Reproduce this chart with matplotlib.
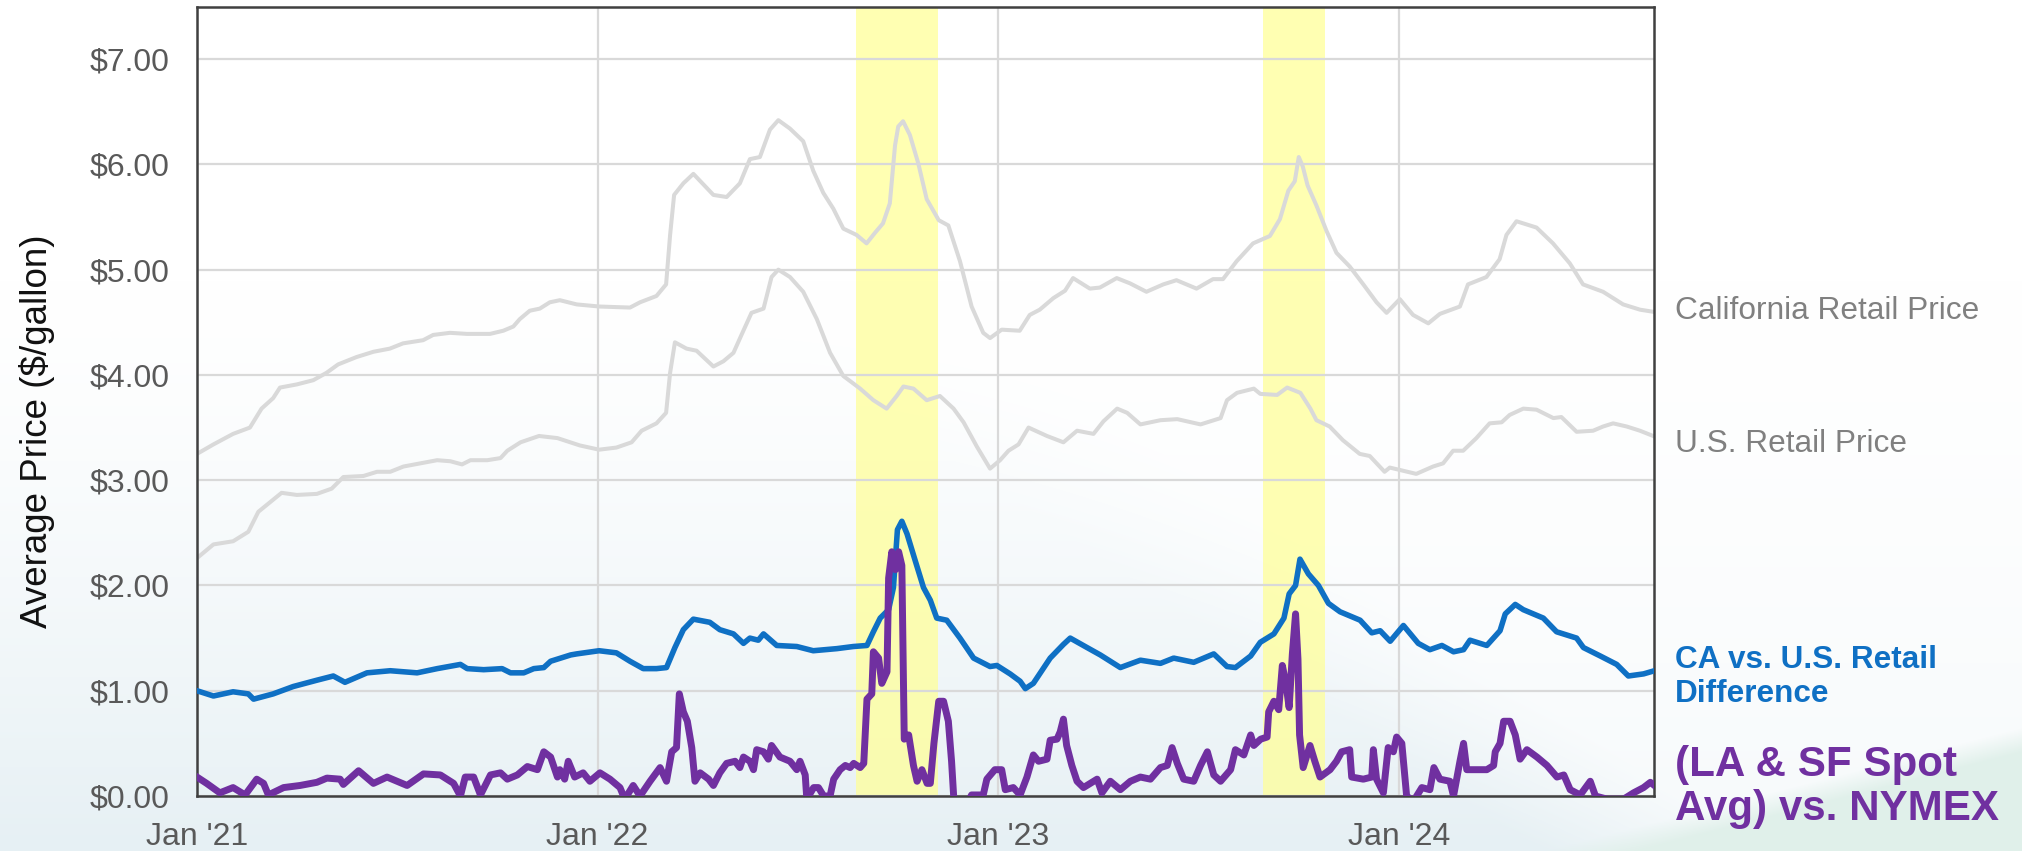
import numpy as np
import pandas as pd
import matplotlib
matplotlib.use("Agg")
import matplotlib.pyplot as plt
from matplotlib.ticker import FuncFormatter

plt.rcParams['font.family'] = ['Liberation Sans', 'DejaVu Sans']

# --- data (decimal years, $/gallon) ---
ca_t = [2021.000, 2021.041, 2021.090, 2021.132, 2021.161, 2021.190, 2021.207, 2021.249, 2021.290, 2021.323,
        2021.352, 2021.398, 2021.440, 2021.481, 2021.514, 2021.564, 2021.589, 2021.631, 2021.673, 2021.731,
        2021.764, 2021.789, 2021.805, 2021.830, 2021.855, 2021.880, 2021.905, 2021.947, 2022.003, 2022.080,
        2022.105, 2022.146, 2022.170, 2022.180, 2022.190, 2022.213, 2022.238, 2022.263, 2022.288, 2022.321,
        2022.354, 2022.379, 2022.404, 2022.429, 2022.450, 2022.479, 2022.512, 2022.537, 2022.562, 2022.587,
        2022.612, 2022.645, 2022.670, 2022.691, 2022.711, 2022.728, 2022.741, 2022.749, 2022.761, 2022.778,
        2022.799, 2022.820, 2022.850, 2022.874, 2022.903, 2022.932, 2022.961, 2022.978, 2023.007, 2023.052,
        2023.077, 2023.102, 2023.136, 2023.165, 2023.185, 2023.227, 2023.252, 2023.294, 2023.327, 2023.368,
        2023.410, 2023.443, 2023.493, 2023.534, 2023.559, 2023.593, 2023.634, 2023.676, 2023.701, 2023.722,
        2023.738, 2023.748, 2023.758, 2023.770, 2023.792, 2023.817, 2023.842, 2023.875, 2023.909, 2023.942,
        2023.967, 2024.000, 2024.033, 2024.071, 2024.100, 2024.150, 2024.170, 2024.216, 2024.249, 2024.266,
        2024.291, 2024.341, 2024.382, 2024.424, 2024.457, 2024.507, 2024.557, 2024.599, 2024.632]
ca_price = [3.25, 3.34, 3.44, 3.50, 3.68, 3.78, 3.88, 3.91, 3.95, 4.02,
            4.10, 4.17, 4.22, 4.25, 4.30, 4.33, 4.38, 4.40, 4.39, 4.39,
            4.42, 4.46, 4.53, 4.61, 4.63, 4.69, 4.71, 4.67, 4.65, 4.64,
            4.69, 4.75, 4.86, 5.33, 5.71, 5.82, 5.91, 5.81, 5.71, 5.69,
            5.82, 6.05, 6.07, 6.33, 6.42, 6.34, 6.22, 5.94, 5.73, 5.58,
            5.39, 5.33, 5.25, 5.35, 5.44, 5.63, 6.18, 6.36, 6.41, 6.28,
            6.01, 5.67, 5.47, 5.42, 5.08, 4.65, 4.40, 4.35, 4.43, 4.42,
            4.57, 4.62, 4.73, 4.80, 4.92, 4.82, 4.83, 4.92, 4.87, 4.79,
            4.86, 4.90, 4.82, 4.91, 4.91, 5.08, 5.25, 5.32, 5.48, 5.75,
            5.84, 6.07, 5.98, 5.80, 5.61, 5.37, 5.16, 5.03, 4.86, 4.69,
            4.59, 4.72, 4.57, 4.49, 4.58, 4.65, 4.86, 4.93, 5.10, 5.33,
            5.46, 5.40, 5.25, 5.06, 4.86, 4.79, 4.67, 4.62, 4.60]

us_t = [2021.000, 2021.041, 2021.090, 2021.128, 2021.153, 2021.182, 2021.211, 2021.249, 2021.299, 2021.336,
        2021.365, 2021.415, 2021.449, 2021.482, 2021.515, 2021.557, 2021.599, 2021.632, 2021.661, 2021.682,
        2021.724, 2021.757, 2021.774, 2021.807, 2021.853, 2021.899, 2021.955, 2022.003, 2022.046, 2022.084,
        2022.109, 2022.146, 2022.170, 2022.180, 2022.192, 2022.221, 2022.246, 2022.288, 2022.313, 2022.338,
        2022.358, 2022.383, 2022.413, 2022.433, 2022.450, 2022.479, 2022.512, 2022.546, 2022.579, 2022.612,
        2022.654, 2022.687, 2022.720, 2022.745, 2022.762, 2022.787, 2022.820, 2022.853, 2022.887, 2022.912,
        2022.945, 2022.978, 2023.003, 2023.024, 2023.049, 2023.074, 2023.120, 2023.161, 2023.195, 2023.236,
        2023.261, 2023.295, 2023.320, 2023.353, 2023.403, 2023.445, 2023.503, 2023.553, 2023.569, 2023.594,
        2023.636, 2023.652, 2023.694, 2023.719, 2023.752, 2023.777, 2023.792, 2023.825, 2023.858, 2023.900,
        2023.925, 2023.962, 2023.975, 2024.008, 2024.041, 2024.083, 2024.108, 2024.133, 2024.158, 2024.191,
        2024.224, 2024.254, 2024.274, 2024.308, 2024.341, 2024.383, 2024.403, 2024.441, 2024.482, 2024.507,
        2024.532, 2024.566, 2024.599, 2024.632]
us_price = [2.26, 2.39, 2.42, 2.51, 2.70, 2.79, 2.88, 2.86, 2.87, 2.92,
            3.03, 3.04, 3.08, 3.08, 3.13, 3.16, 3.19, 3.18, 3.15, 3.19,
            3.19, 3.21, 3.28, 3.36, 3.42, 3.40, 3.33, 3.29, 3.31, 3.36,
            3.47, 3.54, 3.64, 4.02, 4.31, 4.25, 4.23, 4.08, 4.13, 4.21,
            4.38, 4.59, 4.63, 4.93, 5.00, 4.93, 4.79, 4.53, 4.21, 3.99,
            3.87, 3.76, 3.68, 3.80, 3.89, 3.87, 3.76, 3.80, 3.68, 3.55,
            3.32, 3.11, 3.19, 3.28, 3.34, 3.50, 3.42, 3.36, 3.47, 3.44,
            3.56, 3.68, 3.64, 3.53, 3.57, 3.58, 3.53, 3.59, 3.76, 3.83,
            3.87, 3.82, 3.81, 3.88, 3.83, 3.68, 3.57, 3.51, 3.38, 3.25,
            3.23, 3.08, 3.12, 3.09, 3.06, 3.13, 3.16, 3.28, 3.28, 3.40,
            3.54, 3.55, 3.62, 3.68, 3.67, 3.59, 3.60, 3.46, 3.47, 3.51,
            3.54, 3.51, 3.47, 3.42]

diff_t = [2021.000, 2021.041, 2021.090, 2021.128, 2021.141, 2021.190, 2021.240, 2021.299, 2021.340, 2021.369,
          2021.424, 2021.482, 2021.549, 2021.599, 2021.657, 2021.674, 2021.715, 2021.761, 2021.782, 2021.815,
          2021.840, 2021.865, 2021.882, 2021.932, 2021.947, 2022.003, 2022.046, 2022.080, 2022.113, 2022.146,
          2022.171, 2022.192, 2022.213, 2022.238, 2022.279, 2022.304, 2022.338, 2022.363, 2022.379, 2022.400,
          2022.413, 2022.446, 2022.496, 2022.537, 2022.596, 2022.637, 2022.671, 2022.687, 2022.704, 2022.725,
          2022.737, 2022.747, 2022.758, 2022.771, 2022.791, 2022.812, 2022.829, 2022.845, 2022.870, 2022.903,
          2022.937, 2022.978, 2022.995, 2023.028, 2023.053, 2023.066, 2023.086, 2023.128, 2023.161, 2023.178,
          2023.220, 2023.253, 2023.303, 2023.353, 2023.403, 2023.436, 2023.486, 2023.536, 2023.569, 2023.590,
          2023.628, 2023.652, 2023.686, 2023.711, 2023.724, 2023.740, 2023.751, 2023.772, 2023.797, 2023.822,
          2023.851, 2023.901, 2023.930, 2023.951, 2023.976, 2024.009, 2024.046, 2024.075, 2024.105, 2024.134,
          2024.159, 2024.175, 2024.217, 2024.250, 2024.263, 2024.288, 2024.308, 2024.358, 2024.391, 2024.441,
          2024.458, 2024.500, 2024.541, 2024.570, 2024.608, 2024.635]
diff_price = [1.00, 0.95, 0.99, 0.97, 0.92, 0.97, 1.04, 1.10, 1.14, 1.08,
              1.17, 1.19, 1.17, 1.21, 1.25, 1.21, 1.20, 1.21, 1.17, 1.17,
              1.21, 1.22, 1.28, 1.34, 1.35, 1.38, 1.36, 1.28, 1.21, 1.21,
              1.22, 1.41, 1.58, 1.68, 1.65, 1.58, 1.54, 1.45, 1.50, 1.48,
              1.54, 1.43, 1.42, 1.38, 1.40, 1.42, 1.43, 1.56, 1.69, 1.77,
              1.98, 2.53, 2.61, 2.49, 2.24, 1.98, 1.86, 1.69, 1.67, 1.50,
              1.31, 1.23, 1.24, 1.16, 1.09, 1.02, 1.07, 1.31, 1.44, 1.50,
              1.41, 1.34, 1.22, 1.29, 1.26, 1.31, 1.27, 1.35, 1.23, 1.22,
              1.33, 1.46, 1.54, 1.69, 1.92, 2.00, 2.25, 2.11, 2.00, 1.83,
              1.75, 1.67, 1.55, 1.57, 1.47, 1.62, 1.45, 1.39, 1.43, 1.37,
              1.39, 1.48, 1.43, 1.57, 1.73, 1.82, 1.77, 1.69, 1.56, 1.50,
              1.41, 1.33, 1.25, 1.14, 1.16, 1.19]

spot_t = [2021.000, 2021.024, 2021.057, 2021.090, 2021.120, 2021.149, 2021.166, 2021.178, 2021.216, 2021.257,
          2021.299, 2021.324, 2021.357, 2021.365, 2021.403, 2021.440, 2021.474, 2021.524, 2021.565, 2021.607,
          2021.640, 2021.657, 2021.669, 2021.690, 2021.707, 2021.732, 2021.757, 2021.774, 2021.799, 2021.824,
          2021.849, 2021.865, 2021.882, 2021.899, 2021.905, 2021.917, 2021.926, 2021.942, 2021.963, 2021.980,
          2022.005, 2022.030, 2022.055, 2022.067, 2022.088, 2022.105, 2022.130, 2022.155, 2022.171, 2022.184,
          2022.196, 2022.203, 2022.213, 2022.223, 2022.234, 2022.242, 2022.255, 2022.276, 2022.288, 2022.304,
          2022.321, 2022.342, 2022.354, 2022.363, 2022.379, 2022.388, 2022.396, 2022.413, 2022.425, 2022.433,
          2022.454, 2022.479, 2022.496, 2022.504, 2022.517, 2022.521, 2022.538, 2022.550, 2022.563, 2022.579,
          2022.588, 2022.604, 2022.617, 2022.629, 2022.638, 2022.654, 2022.663, 2022.671, 2022.683, 2022.687,
          2022.700, 2022.708, 2022.721, 2022.725, 2022.733, 2022.742, 2022.750, 2022.758, 2022.764, 2022.775,
          2022.787, 2022.796, 2022.808, 2022.821, 2022.829, 2022.838, 2022.850, 2022.862, 2022.874, 2022.882,
          2022.888, 2022.912, 2022.932, 2022.961, 2022.970, 2022.990, 2023.007, 2023.016, 2023.036, 2023.053,
          2023.070, 2023.086, 2023.099, 2023.120, 2023.128, 2023.145, 2023.153, 2023.161, 2023.169, 2023.182,
          2023.195, 2023.211, 2023.228, 2023.245, 2023.257, 2023.278, 2023.303, 2023.328, 2023.353, 2023.378,
          2023.403, 2023.420, 2023.432, 2023.445, 2023.461, 2023.486, 2023.503, 2023.520, 2023.536, 2023.553,
          2023.578, 2023.590, 2023.611, 2023.628, 2023.636, 2023.653, 2023.669, 2023.673, 2023.686, 2023.698,
          2023.707, 2023.715, 2023.724, 2023.732, 2023.740, 2023.746, 2023.750, 2023.759, 2023.776, 2023.788,
          2023.801, 2023.826, 2023.842, 2023.855, 2023.875, 2023.880, 2023.909, 2023.930, 2023.934, 2023.942,
          2023.959, 2023.971, 2023.984, 2023.992, 2024.005, 2024.017, 2024.034, 2024.055, 2024.075, 2024.085,
          2024.100, 2024.125, 2024.134, 2024.150, 2024.159, 2024.167, 2024.192, 2024.217, 2024.234, 2024.238,
          2024.250, 2024.259, 2024.275, 2024.288, 2024.300, 2024.317, 2024.342, 2024.367, 2024.392, 2024.409,
          2024.425, 2024.450, 2024.475, 2024.488, 2024.517, 2024.558, 2024.583, 2024.608, 2024.625, 2024.635]
spot_price = [0.18, 0.12, 0.03, 0.08, 0.01, 0.16, 0.12, 0.01, 0.08, 0.10,
              0.13, 0.17, 0.16, 0.11, 0.24, 0.12, 0.18, 0.10, 0.21, 0.20,
              0.12, 0.00, 0.18, 0.18, 0.01, 0.20, 0.22, 0.16, 0.20, 0.28,
              0.25, 0.42, 0.37, 0.18, 0.25, 0.16, 0.33, 0.18, 0.22, 0.14,
              0.22, 0.16, 0.08, -0.03, 0.10, 0.00, 0.14, 0.27, 0.14, 0.42,
              0.46, 0.97, 0.80, 0.71, 0.46, 0.14, 0.22, 0.16, 0.10, 0.22,
              0.31, 0.33, 0.27, 0.37, 0.33, 0.25, 0.44, 0.42, 0.35, 0.48,
              0.37, 0.33, 0.25, 0.33, 0.20, -0.03, 0.08, 0.08, 0.00, 0.00,
              0.16, 0.25, 0.29, 0.27, 0.31, 0.27, 0.31, 0.92, 0.97, 1.37,
              1.31, 1.07, 1.18, 2.07, 2.32, 2.15, 2.32, 2.19, 0.54, 0.58,
              0.29, 0.14, 0.25, 0.12, 0.12, 0.50, 0.90, 0.90, 0.71, 0.33,
              -0.05, -0.14, 0.01, 0.01, 0.16, 0.25, 0.25, 0.06, 0.08, 0.01,
              0.18, 0.39, 0.33, 0.35, 0.53, 0.54, 0.61, 0.73, 0.48, 0.29,
              0.14, 0.08, 0.12, 0.16, 0.03, 0.14, 0.06, 0.14, 0.18, 0.16,
              0.27, 0.29, 0.46, 0.31, 0.16, 0.14, 0.29, 0.42, 0.20, 0.14,
              0.25, 0.44, 0.39, 0.58, 0.48, 0.54, 0.56, 0.80, 0.90, 0.82,
              1.24, 1.09, 0.84, 1.35, 1.73, 1.30, 0.58, 0.27, 0.48, 0.33,
              0.18, 0.25, 0.33, 0.42, 0.44, 0.18, 0.16, 0.18, 0.44, 0.16,
              0.03, 0.46, 0.42, 0.56, 0.50, 0.00, -0.05, 0.08, 0.06, 0.27,
              0.16, 0.14, 0.00, 0.33, 0.50, 0.25, 0.25, 0.25, 0.29, 0.42,
              0.50, 0.71, 0.71, 0.58, 0.35, 0.44, 0.37, 0.29, 0.18, 0.20,
              0.06, 0.01, 0.14, 0.00, -0.03, -0.03, 0.03, 0.08, 0.13, 0.10]

band_start = ['2022-08-24', '2023-08-30']
band_end = ['2022-11-07', '2023-10-26']
year_ticks = ['2021-01-01', '2022-01-01', '2023-01-01', '2024-01-01']
year_labels = ["Jan '21", "Jan '22", "Jan '23", "Jan '24"]
x_end = 2024.634


def to_dates(years):
    years = np.asarray(years, dtype=float)
    return pd.Timestamp('2021-01-01') + pd.to_timedelta((years - 2021) * 365.25, unit='D')


W, H = 2022, 851
fig = plt.figure(figsize=(W / 100, H / 100), dpi=100)

# soft slide-style background: pale blue fade at the bottom, lighter wedge, green hump
yy, xx = np.mgrid[0:H, 0:W].astype(float)
img = np.ones((H, W, 3))
wA = np.clip((yy - 280) / 571, 0, 1) ** 1.4
x_line = 1098 + (yy - 483) * 554 / 368
side = np.clip((x_line - xx) / 220 + 0.5, 0, 1)
wA = wA * (0.35 + 0.65 * side)
tintA = np.array([230, 240, 244]) / 255
img = img * (1 - wA[..., None]) + tintA * wA[..., None]
y_hump = 851 - (xx - 1540) / 482 * 124
wB = np.clip((yy - y_hump) / 25, 0, 1) * (xx > 1540)
tintB = np.array([224, 240, 234]) / 255
img = img * (1 - wB[..., None]) + tintB * wB[..., None]
bg = fig.add_axes([0, 0, 1, 1], zorder=0)
bg.imshow(img, extent=[0, 1, 0, 1], aspect='auto', interpolation='bilinear')
bg.axis('off')

ax = fig.add_axes([197 / W, 1 - 796 / H, (1654 - 197) / W, (796 - 6.5) / H], zorder=1)
ax.set_facecolor('none')
ax.set_axisbelow(True)

for s, e in zip(band_start, band_end):
    ax.axvspan(pd.Timestamp(s), pd.Timestamp(e), color='#ffff99', alpha=0.75, lw=0, zorder=0.2)

ax.plot(to_dates(ca_t), ca_price, color='#d9d9d9', lw=2.9, zorder=2)
ax.plot(to_dates(us_t), us_price, color='#d9d9d9', lw=2.9, zorder=2)
ax.plot(to_dates(diff_t), diff_price, color='#0f70c4', lw=4.0, zorder=3)
ax.plot(to_dates(spot_t), spot_price, color='#7030a0', lw=5.0, zorder=4)

ax.set_ylim(0, 7.5)
ax.set_xlim(pd.Timestamp('2021-01-01'), to_dates([x_end])[0])
ax.set_yticks(np.arange(0, 8, 1))
ax.yaxis.set_major_formatter(FuncFormatter(lambda v, p: f'${v:.2f}'))
ax.set_xticks([pd.Timestamp(d) for d in year_ticks])
ax.set_xticklabels(year_labels)
ax.tick_params(axis='both', length=0, labelsize=23, colors='#595959')
ax.tick_params(axis='x', pad=19)
ax.tick_params(axis='y', pad=20)
ax.grid(True, color='#d9d9d9', lw=1.6)
for sp in ax.spines.values():
    sp.set_color('#404040')
    sp.set_linewidth(1.8)

fig.text(37 / W, 1 - 431 / H, 'Average Price ($/gallon)', rotation=90, ha='center', va='center',
         fontsize=26.5, color='#111111')

fig.text(1675 / W, 1 - 311 / H, 'California Retail Price', ha='left', va='center',
         fontsize=22.8, color='#808080')
fig.text(1675 / W, 1 - 444 / H, 'U.S. Retail Price', ha='left', va='center',
         fontsize=22.8, color='#808080')
fig.text(1675 / W, 1 - 677 / H, 'CA vs. U.S. Retail\nDifference', ha='left', va='center',
         fontsize=22.7, fontweight='bold', color='#0f70c4', linespacing=1.21)
fig.text(1675 / W, 1 - 787 / H, '(LA & SF Spot\nAvg) vs. NYMEX', ha='left', va='center',
         fontsize=30.3, fontweight='bold', color='#7030a0', linespacing=1.12)

fig.savefig('out.png', dpi=100)
